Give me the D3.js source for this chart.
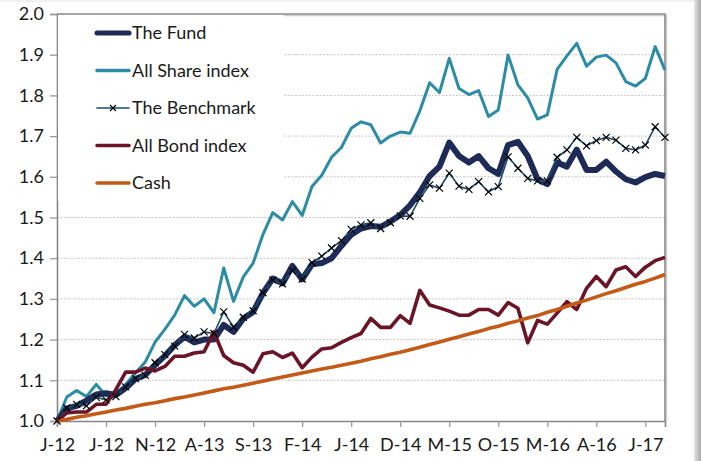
<!DOCTYPE html>
<html>
<head>
<meta charset="utf-8">
<script src="https://cdn.jsdelivr.net/npm/d3@7"></script>
<style>
body{margin:0;background:#fff;}
svg{display:block;font-family:Lato,"Noto Sans",sans-serif;}
</style>
</head>
<body>
<div id="container"></div>
<script>
// monthly values, Jan 2012 .. Mar 2017 (63 months)
var tickLabels = ["J-12","J-12","N-12","A-13","S-13","F-14","J-14","D-14","M-15","O-15","M-16","A-16","J-17"]
var yTicks = [1.0,1.1,1.2,1.3,1.4,1.5,1.6,1.7,1.8,1.9,2.0]
var seriesNames = ["The Fund","All Share index","The Benchmark","All Bond index","Cash"]

var fund = [1.000,1.031,1.037,1.050,1.065,1.068,1.064,1.081,1.103,1.113,1.138,1.160,1.186,1.207,1.193,1.200,1.200,1.236,1.219,1.252,
  1.268,1.314,1.350,1.338,1.381,1.348,1.385,1.388,1.400,1.430,1.458,1.473,1.479,1.477,1.490,1.506,1.530,1.562,1.602,1.625,
  1.684,1.651,1.635,1.651,1.621,1.607,1.678,1.686,1.651,1.594,1.582,1.635,1.625,1.667,1.617,1.617,1.637,1.613,1.594,1.586,
  1.599,1.607,1.602]
var allShare = [1.000,1.059,1.075,1.060,1.090,1.062,1.066,1.090,1.118,1.145,1.194,1.225,1.260,1.308,1.282,1.300,1.266,1.376,1.294,1.354,
  1.388,1.458,1.512,1.494,1.539,1.505,1.576,1.604,1.648,1.672,1.719,1.735,1.728,1.683,1.700,1.710,1.707,1.762,1.831,1.807,
  1.891,1.817,1.802,1.812,1.748,1.764,1.899,1.826,1.794,1.742,1.752,1.864,1.897,1.928,1.872,1.894,1.899,1.880,1.834,1.823,
  1.842,1.920,1.862]
var benchmark = [1.000,1.032,1.041,1.037,1.058,1.052,1.060,1.084,1.104,1.112,1.143,1.163,1.184,1.213,1.204,1.219,1.215,1.268,1.231,1.255,
  1.271,1.315,1.346,1.337,1.369,1.349,1.389,1.405,1.425,1.443,1.471,1.482,1.487,1.473,1.487,1.504,1.503,1.547,1.580,1.572,
  1.609,1.577,1.569,1.588,1.563,1.576,1.649,1.621,1.596,1.590,1.590,1.648,1.666,1.697,1.676,1.689,1.697,1.690,1.670,1.666,
  1.678,1.723,1.697]
var allBond = [1.000,1.020,1.022,1.022,1.041,1.041,1.077,1.120,1.120,1.130,1.123,1.134,1.159,1.159,1.167,1.170,1.219,1.161,1.143,1.137,
  1.120,1.165,1.170,1.156,1.167,1.131,1.157,1.177,1.180,1.193,1.205,1.215,1.252,1.230,1.230,1.259,1.240,1.321,1.285,1.278,
  1.270,1.260,1.260,1.274,1.274,1.260,1.291,1.277,1.192,1.247,1.238,1.265,1.293,1.274,1.326,1.355,1.330,1.371,1.379,1.355,
  1.378,1.394,1.402]
var cash = [1.000,1.004,1.009,1.013,1.018,1.022,1.027,1.031,1.036,1.041,1.045,1.050,1.055,1.059,1.064,1.069,1.074,1.079,1.083,1.088,
  1.093,1.098,1.103,1.108,1.113,1.118,1.123,1.128,1.132,1.137,1.142,1.147,1.153,1.158,1.164,1.169,1.175,1.181,1.188,1.194,
  1.201,1.207,1.214,1.220,1.227,1.233,1.240,1.246,1.253,1.259,1.267,1.274,1.282,1.290,1.297,1.305,1.313,1.320,1.328,1.336,
  1.343,1.351,1.360]

var w = 701
var h = 461
var pLeft = 57, pRight = 665, pTop = 14, pBottom = 421

var svg = d3.select("#container").append("svg").attr("width",w).attr("height",h)

// outer chart shadow on the right edge
var grad = svg.append("defs").append("linearGradient").attr("id","shade")
grad.append("stop").attr("offset","0%").attr("stop-color","#e6e6e6")
grad.append("stop").attr("offset","100%").attr("stop-color","#a9a9a9")
svg.append("rect").attr("x",694).attr("y",0).attr("width",7).attr("height",h).attr("fill","url(#shade)")
svg.append("rect").attr("x",0).attr("y",0).attr("width",694).attr("height",2).attr("fill","#f2f2f2")

var xScale = d3.scaleLinear().domain([0,fund.length-1]).range([pLeft,pRight])
var yScale = d3.scaleLinear().domain([1,2]).range([pBottom,pTop])

// grid
svg.append("g").selectAll("line").data(yTicks.slice(1,-1)).enter().append("line")
  .attr("x1",pLeft).attr("x2",pRight)
  .attr("y1",function(d){return yScale(d)}).attr("y2",function(d){return yScale(d)})
  .attr("stroke","#c4c4c4").attr("stroke-width",1).attr("stroke-dasharray","2,1.5")

// plot frame (top + right) with a soft shadow
svg.append("path").attr("d","M"+pLeft+","+(pTop+1.5)+"H"+(pRight+1.5)+"V"+pBottom)
  .attr("fill","none").attr("stroke","#cfcfcf").attr("stroke-width",1.5)
svg.append("path").attr("d","M"+pLeft+","+pTop+"H"+pRight+"V"+pBottom)
  .attr("fill","none").attr("stroke","#8a8a8a").attr("stroke-width",1.6)

// axes
var yAxis = d3.axisLeft(yScale).tickValues(yTicks).tickFormat(d3.format(".1f")).tickSize(7).tickPadding(6)
var gy = svg.append("g").attr("transform","translate("+pLeft+",0)").call(yAxis)
var xAxis = d3.axisBottom(xScale).tickValues(d3.range(0,61,5))
  .tickFormat(function(d,i){return tickLabels[i]}).tickSize(6).tickPadding(11)
var gx = svg.append("g").attr("transform","translate(0,"+pBottom+")").call(xAxis)
;[gx,gy].forEach(function(g){
  g.select(".domain").attr("stroke","#858585").attr("stroke-width",1.6)
  g.selectAll(".tick line").attr("stroke","#9a9a9a").attr("stroke-width",1.3)
  g.selectAll(".tick text").attr("fill","#1a1a1a").style("font-size","18px").style("font-family","Lato,'Noto Sans',sans-serif")
})

// lines
var line = d3.line().x(function(d,i){return xScale(i)}).y(function(d){return yScale(d)})
var styles = [
  {data:allShare, color:"#2d8ca5", width:3},
  {data:fund, color:"#1f2b57", width:6},
  {data:benchmark, color:"#1c4966", width:1.6},
  {data:allBond, color:"#6b1427", width:3.6},
  {data:cash, color:"#c45a17", width:3.6}
]
styles.forEach(function(s){
  svg.append("path").attr("d",line(s.data)).attr("fill","none")
    .attr("stroke",s.color).attr("stroke-width",s.width).attr("stroke-linejoin","round")
})

// benchmark markers
function cross(g,x,y,r){
  g.append("path").attr("d","M"+(x-r)+","+(y-r)+"L"+(x+r)+","+(y+r)+"M"+(x-r)+","+(y+r)+"L"+(x+r)+","+(y-r))
    .attr("stroke","#000").attr("stroke-width",1.2).attr("fill","none")
}
var gm = svg.append("g")
benchmark.forEach(function(d,i){ cross(gm,xScale(i),yScale(d),3.5) })

// legend with white box over the grid
var lg = svg.append("g")
lg.append("rect").attr("x",pLeft+1).attr("y",pTop+1).attr("width",226).attr("height",186).attr("fill","#fff")
var legendColors = ["#1f2b57","#2d8ca5","#1c4966","#6b1427","#c45a17"]
var legendWidths = [5,3.5,1.6,3.5,3.5]
seriesNames.forEach(function(name,i){
  var y = 33 + i*37.5
  lg.append("line").attr("x1",97).attr("x2",129).attr("y1",y).attr("y2",y)
    .attr("stroke",legendColors[i]).attr("stroke-width",legendWidths[i]).attr("stroke-linecap","round")
  if(i==2){ cross(lg,113,y,3) }
  lg.append("text").attr("x",132).attr("y",y).attr("dy","0.35em").text(name)
    .attr("fill","#1a1a1a").style("font-size","18px")
})
</script>
</body>
</html>
